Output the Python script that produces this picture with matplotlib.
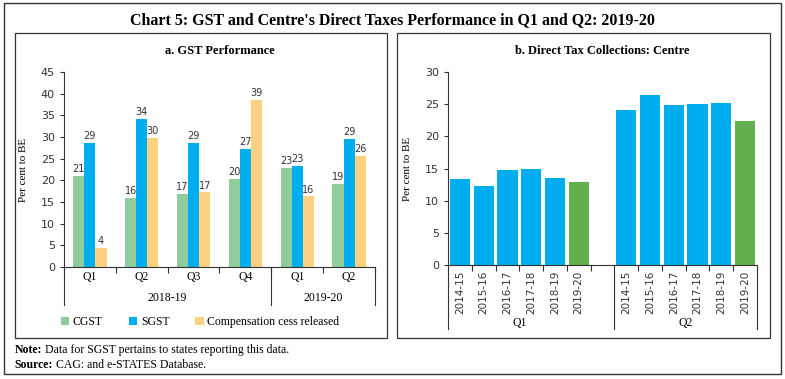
import matplotlib.pyplot as plt
import numpy as np
from matplotlib.patches import Rectangle
from matplotlib.text import Annotation
from matplotlib.transforms import blended_transform_factory

# panel a: GST performance (per cent to BE)
quarters = ["Q1", "Q2", "Q3", "Q4", "Q1", "Q2"]
years = ["2018-19", "2019-20"]
cgst = [21.0, 15.9, 16.8, 20.4, 22.9, 19.2]
sgst = [28.6, 34.2, 28.6, 27.2, 23.3, 29.5]
cess = [4.4, 29.8, 17.2, 38.5, 16.3, 25.6]
cgst_lbl = [21, 16, 17, 20, 23, 19]
sgst_lbl = [29, 34, 29, 27, 23, 29]
cess_lbl = [4, 30, 17, 39, 16, 26]

# panel b: direct tax collections, Centre
fy = ["2014-15", "2015-16", "2016-17", "2017-18", "2018-19", "2019-20"]
q1_tax = [13.3, 12.3, 14.8, 14.9, 13.5, 12.9]
q2_tax = [24.1, 26.4, 24.9, 25.0, 25.2, 22.4]

green = "#91cc9c"
blue = "#00aeef"
yellow = "#fdd17f"
dkgreen = "#62b04d"
serif = "Liberation Serif"
sans = "DejaVu Sans"

fig = plt.figure(figsize=(7.85, 3.79), dpi=100)

# boxes
fig.patches.append(Rectangle((0.0051, 0.0132), 0.9898, 0.979, fill=False, lw=1.0,
                             ec="#333333", transform=fig.transFigure))
fig.patches.append(Rectangle((0.0191, 0.1082), 0.4739, 0.8047, fill=False, lw=0.9,
                             ec="#333333", transform=fig.transFigure))
fig.patches.append(Rectangle((0.5057, 0.1082), 0.4752, 0.8047, fill=False, lw=0.9,
                             ec="#333333", transform=fig.transFigure))

fig.text(0.5, 0.946, "Chart 5: GST and Centre's Direct Taxes Performance in Q1 and Q2: 2019-20",
         ha="center", va="center", fontsize=11.5, fontweight="bold", family=serif)


def footnote(y, head, body):
    t = fig.text(0.019, y, head, ha="left", va="bottom", fontsize=8.5,
                 fontweight="bold", family=serif)
    fig.add_artist(Annotation(" " + body, xy=(1, 0), xycoords=t, ha="left",
                              va="bottom", fontsize=8.5, family=serif))


footnote(0.06, "Note:", "Data for SGST pertains to states reporting this data.")
footnote(0.021, "Source:", "CAG: and e-STATES Database.")

# ---------- panel a ----------
ax = fig.add_axes([0.0815, 0.2955, 0.3962, 0.5145])
x = np.arange(len(quarters))
w = 0.215
b1 = ax.bar(x - w, cgst, w, color=green)
b2 = ax.bar(x, sgst, w, color=blue)
b3 = ax.bar(x + w, cess, w, color=yellow)
for bars, lbls in [(b1, cgst_lbl), (b2, sgst_lbl), (b3, cess_lbl)]:
    for b, l in zip(bars, lbls):
        ax.text(b.get_x() + b.get_width() / 2, b.get_height() + 0.4, str(l),
                ha="center", va="bottom", fontsize=7, color="#333333", family=sans)

ax.set_xlim(-0.5, 5.5)
ax.set_ylim(0, 45)
ax.set_yticks(range(0, 46, 5))
ax.set_xticks(x)
ax.set_xticklabels([])
ax.set_xticks(np.arange(-0.5, 6, 1), minor=True)
ax.tick_params(axis="x", which="major", length=0)
ax.tick_params(axis="x", which="minor", length=4, width=0.8, color="#333333")
ax.tick_params(axis="y", labelsize=8, length=3, width=0.8, colors="#333333")
for s in ["top", "right"]:
    ax.spines[s].set_visible(False)
for s in ["left", "bottom"]:
    ax.spines[s].set_color("#333333")
    ax.spines[s].set_linewidth(0.8)

tr = blended_transform_factory(ax.transData, ax.transAxes)
for xi, q in zip(x, quarters):
    ax.text(xi, -0.05, q, transform=tr, ha="center", va="center", fontsize=8.5, family=serif)
ax.text(1.5, -0.16, years[0], transform=tr, ha="center", va="center", fontsize=8.5, family=serif)
ax.text(4.5, -0.16, years[1], transform=tr, ha="center", va="center", fontsize=8.5, family=serif)
for xv in [-0.5, 3.5, 5.5]:
    ax.plot([xv, xv], [0, -0.195], transform=tr, color="#333333", lw=0.8, clip_on=False)

ax.set_ylabel("Per cent to BE", fontsize=8, family=serif)
ax.yaxis.set_label_coords(-0.115, 0.5)
ax.set_title("a. GST Performance", fontsize=9, fontweight="bold", family=serif, pad=13)

ax.legend([b1, b2, b3], ["CGST", "SGST", "Compensation cess released"],
          loc="center", bbox_to_anchor=(0.255, 0.15), bbox_transform=fig.transFigure,
          ncol=3, frameon=False, handlelength=0.7, handleheight=0.7, handletextpad=0.3,
          columnspacing=2.2, prop={"family": serif, "size": 8.5})

# ---------- panel b ----------
bx = fig.add_axes([0.5707, 0.3008, 0.3936, 0.5092])
pos1 = np.arange(len(fy))
pos2 = pos1 + 7
cols = [blue] * 5 + [dkgreen]
bx.bar(pos1, q1_tax, 0.85, color=cols)
bx.bar(pos2, q2_tax, 0.85, color=cols)
bx.set_xlim(-0.5, 12.5)
bx.set_ylim(0, 30)
bx.set_yticks(range(0, 31, 5))
bx.set_xticks(np.concatenate([pos1, pos2]))
bx.set_xticklabels(fy + fy, rotation=90, fontsize=7.5, family=sans, color="#333333")
minor = [v for v in np.arange(-0.5, 13, 1) if v not in (-0.5, 6.5, 12.5)]
bx.set_xticks(minor, minor=True)
bx.tick_params(axis="x", which="major", length=0, pad=4)
bx.tick_params(axis="x", which="minor", length=4, width=0.8, color="#333333")
bx.tick_params(axis="y", labelsize=8, length=3, width=0.8, colors="#333333")
for s in ["top", "right"]:
    bx.spines[s].set_visible(False)
for s in ["left", "bottom"]:
    bx.spines[s].set_color("#333333")
    bx.spines[s].set_linewidth(0.8)

trb = blended_transform_factory(bx.transData, bx.transAxes)
bx.text(2.5, -0.3, "Q1", transform=trb, ha="center", va="center", fontsize=8.5, family=serif)
bx.text(9.5, -0.3, "Q2", transform=trb, ha="center", va="center", fontsize=8.5, family=serif)
for xv in [-0.5, 6.5, 12.5]:
    bx.plot([xv, xv], [0, -0.33], transform=trb, color="#333333", lw=0.8, clip_on=False)

bx.set_ylabel("Per cent to BE", fontsize=8, family=serif)
bx.yaxis.set_label_coords(-0.117, 0.5)
bx.set_title("b. Direct Tax Collections: Centre", fontsize=9, fontweight="bold",
             family=serif, pad=13)

fig.savefig("out.png", dpi=100)
